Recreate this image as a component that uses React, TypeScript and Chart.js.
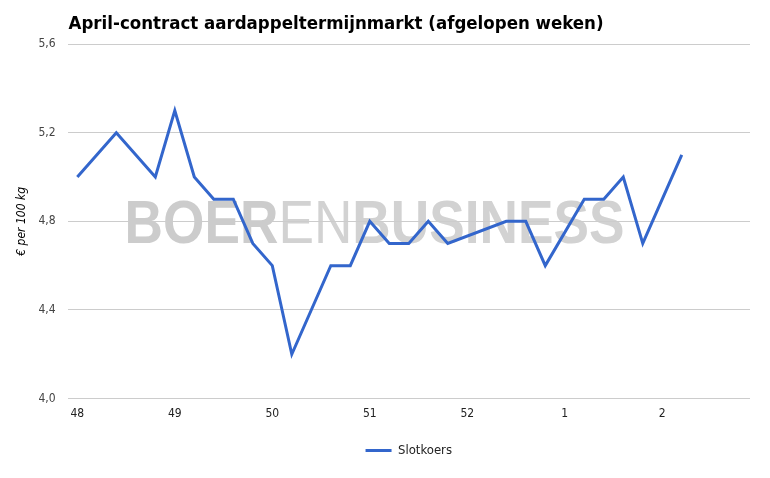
import React, { useEffect, useRef } from "react";
import { Chart, registerables } from "chart.js";

Chart.register(...registerables);

const chartTitle = "April-contract aardappeltermijnmarkt (afgelopen weken)";
const yAxisTitle = "€ per 100 kg";
const seriesName = "Slotkoers";
const weekLabels = ["48", "49", "50", "51", "52", "1", "2"];
const dayIndex = [0, 2, 4, 5, 6, 7, 8, 9, 10, 11, 13, 14, 15, 16, 17, 18, 19, 22, 23, 24, 26, 27, 28, 29, 31];
const slotkoers = [5.0, 5.2, 5.0, 5.3, 5.0, 4.9, 4.9, 4.7, 4.6, 4.2, 4.6, 4.6, 4.8, 4.7, 4.7, 4.8, 4.7, 4.8, 4.8, 4.6, 4.9, 4.9, 5.0, 4.7, 5.1];
const yTicks = [4.0, 4.4, 4.8, 5.2, 5.6];

const FONT = "'DejaVu Sans Condensed', 'DejaVu Sans', sans-serif";

const titlePlugin = {
  id: "customTitle",
  afterDraw(chart: any) {
    const ctx = chart.ctx;
    ctx.save();
    ctx.font = `bold 18.5px ${FONT}`;
    ctx.fillStyle = "#000";
    ctx.textBaseline = "alphabetic";
    ctx.textAlign = "left";
    ctx.fillText(chartTitle, chart.chartArea.left + 1, 29);
    ctx.restore();
  },
};

const watermarkPlugin = {
  id: "watermark",
  beforeDraw(chart: any) {
    const ctx = chart.ctx;
    const area = chart.chartArea;
    const yScale = chart.scales.y;
    const parts = [
      { t: "BOER", w: "bold", c: "#cccccc" },
      { t: "EN", w: "normal", c: "#d2d2d2" },
      { t: "BUSINESS", w: "bold", c: "#d2d2d2" },
    ];
    ctx.save();
    const size = 62;
    let total = 0;
    const widths: number[] = [];
    for (const p of parts) {
      ctx.font = `${p.w} ${size}px 'Liberation Sans', Arial, sans-serif`;
      const w = ctx.measureText(p.t).width;
      widths.push(w);
      total += w;
    }
    const target = 500;
    const sx = target / total;
    const x0 = area.left + 57;
    const yMid = yScale.getPixelForValue(4.8);
    ctx.translate(x0, yMid);
    ctx.scale(sx, 1);
    ctx.textBaseline = "alphabetic";
    ctx.textAlign = "left";
    let x = 0;
    parts.forEach((p, i) => {
      ctx.font = `${p.w} ${size}px 'Liberation Sans', Arial, sans-serif`;
      ctx.fillStyle = p.c;
      ctx.fillText(p.t, x, 22);
      x += widths[i];
    });
    ctx.restore();
  },
};

export default function App() {
  const ref = useRef<HTMLCanvasElement>(null);

  useEffect(() => {
    document.body.style.margin = "0";
    const canvas = ref.current;
    if (!canvas) return;
    const chart = new Chart(canvas, {
      type: "line",
      data: {
        datasets: [
          {
            label: seriesName,
            data: dayIndex.map((d, i) => ({ x: d, y: slotkoers[i] })),
            borderColor: "#3366cc",
            backgroundColor: "#3366cc",
            borderWidth: 3,
            pointRadius: 0,
            tension: 0,
            fill: false,
          },
        ],
      },
      options: {
        animation: false,
        responsive: false,
        maintainAspectRatio: false,
        layout: { padding: { top: 44, right: 20, left: 6, bottom: 11 } },
        scales: {
          x: {
            type: "linear",
            min: -0.5,
            max: 34.5,
            afterBuildTicks: (axis: any) => {
              axis.ticks = weekLabels.map((_, i) => ({ value: i * 5 }));
            },
            afterFit: (axis: any) => {
              axis.height -= 2;
            },
            grid: { display: false, drawTicks: false },
            border: { display: false },
            ticks: {
              autoSkip: false,
              maxRotation: 0,
              padding: 8,
              color: "#222",
              font: { family: FONT, size: 12 },
              callback: (v: any) => weekLabels[Math.round(Number(v) / 5)] ?? "",
            },
          },
          y: {
            min: 4.0,
            max: 5.6,
            afterBuildTicks: (axis: any) => {
              axis.ticks = yTicks.map((v) => ({ value: v }));
            },
            afterFit: (axis: any) => {
              axis.width -= 3;
            },
            grid: { color: "#cccccc", drawTicks: false, lineWidth: 1 },
            border: { display: false },
            ticks: {
              padding: 12,
              color: "#444",
              font: { family: FONT, size: 12 },
              callback: (v: any) => Number(v).toFixed(1).replace(".", ","),
            },
            title: {
              display: true,
              text: yAxisTitle,
              color: "#000",
              font: { family: FONT, size: 12, style: "italic" },
              padding: { top: 9, bottom: 0 },
            },
          },
        },
        plugins: {
          title: { display: false },
          tooltip: { enabled: false },
          legend: {
            display: true,
            position: "bottom",
            fullSize: false,
            labels: {
              usePointStyle: true,
              pointStyle: "line",
              pointStyleWidth: 26,
              boxHeight: 12,
              color: "#222",
              padding: 17,
              font: { family: FONT, size: 13 },
            },
          },
        },
      },
      plugins: [titlePlugin, watermarkPlugin],
    });
    return () => chart.destroy();
  }, []);

  return (
    <div style={{ width: 770, height: 478 }}>
      <canvas ref={ref} width={770} height={478} style={{ width: 770, height: 478, display: "block" }} />
    </div>
  );
}
